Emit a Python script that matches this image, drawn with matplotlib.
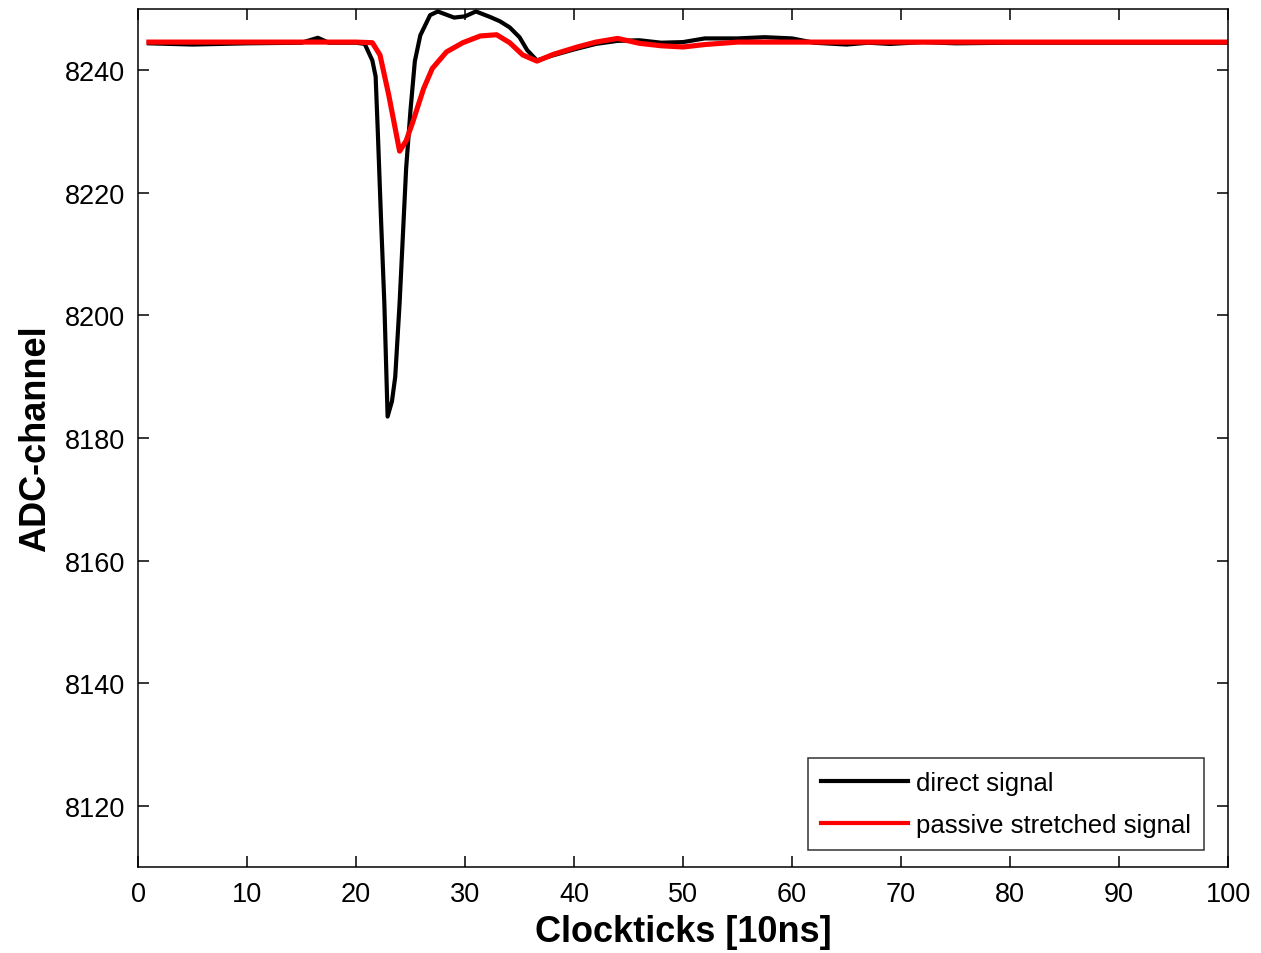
import matplotlib
matplotlib.use("Agg")
import matplotlib.pyplot as plt

# Direct signal (black)
direct_x = [1, 5, 10, 15, 16.5, 17.5, 20, 20.8, 21.5, 21.8, 22.0, 22.3, 22.6, 22.9,
            23.3, 23.6, 24.0, 24.3, 24.6, 25.0, 25.4, 25.9, 26.8, 27.5, 29, 30, 31,
            32.3, 33.2, 34.1, 35.0, 35.7, 36.6, 38, 40, 42, 44, 46, 48, 50, 52, 55,
            57.5, 60, 62, 65, 67, 69, 72, 75, 80, 85, 90, 95, 100]
direct_y = [8244.4, 8244.2, 8244.4, 8244.5, 8245.3, 8244.5, 8244.5, 8244.3, 8241.6,
            8239.0, 8230.0, 8215.5, 8202.0, 8183.5, 8186.0, 8190.0, 8202.0, 8213.0,
            8224.0, 8233.5, 8241.5, 8245.7, 8249.0, 8249.6, 8248.6, 8248.8, 8249.6,
            8248.7, 8248.0, 8247.0, 8245.4, 8243.3, 8241.6, 8242.4, 8243.4, 8244.3,
            8244.8, 8244.9, 8244.5, 8244.6, 8245.2, 8245.2, 8245.4, 8245.2, 8244.5,
            8244.2, 8244.5, 8244.3, 8244.6, 8244.4, 8244.5, 8244.5, 8244.5, 8244.5,
            8244.5]

# Passive stretched signal (red)
stretched_x = [1, 10, 20, 21.5, 22.2, 23.0, 24.0, 24.6, 25.2, 26.2, 27.0, 28.3, 29.8,
               31.4, 32.9, 34.1, 35.3, 36.6, 38.1, 40.3, 42, 44, 46, 48, 50, 52, 55,
               60, 70, 80, 90, 100]
stretched_y = [8244.6, 8244.6, 8244.6, 8244.5, 8242.5, 8236.0, 8226.8, 8228.5,
               8231.5, 8237.0, 8240.3, 8243.0, 8244.5, 8245.6, 8245.8, 8244.5,
               8242.5, 8241.5, 8242.6, 8243.8, 8244.6, 8245.2, 8244.4, 8244.0,
               8243.8, 8244.2, 8244.6, 8244.6, 8244.6, 8244.6, 8244.6, 8244.6]

x_ticks = list(range(0, 101, 10))
y_ticks = list(range(8120, 8241, 20))

plt.rcParams['font.family'] = ['Liberation Sans', 'DejaVu Sans']

fig = plt.figure(figsize=(12.61, 9.54), dpi=100)
ax = fig.add_axes([138/1261, 1 - 868/954, (1228-138)/1261, (868-10)/954])

ax.plot(direct_x, direct_y, color='black', lw=3.0, label='direct signal')
ax.plot(stretched_x, stretched_y, color='red', lw=3.7, label='passive stretched signal')

ax.set_xlim(0, 100)
ax.set_ylim(8110, 8250)
ax.set_xticks(x_ticks)
ax.set_yticks(y_ticks)
ax.tick_params(direction='in', length=8, width=1.1, top=True, right=True,
               labelsize=19.5, colors='black')
ax.tick_params(axis='x', pad=10)
ax.tick_params(axis='y', pad=9)
for s in ax.spines.values():
    s.set_linewidth(1.1)

ax.set_xlabel('Clockticks [10ns]', fontsize=26, fontweight='bold', labelpad=5)
ax.set_ylabel('ADC-channel', fontsize=26, fontweight='bold', labelpad=9)

leg = ax.legend(loc='lower right', bbox_to_anchor=(1 - 24/1090, 17/858),
                borderaxespad=0, fontsize=18.5, frameon=True, fancybox=False,
                edgecolor='black', handlelength=3.4, handletextpad=0.3,
                borderpad=0.5, labelspacing=0.7)
leg.get_frame().set_linewidth(1.1)
for line in leg.get_lines():
    line.set_linewidth(3)

fig.savefig('out.png', dpi=100)
